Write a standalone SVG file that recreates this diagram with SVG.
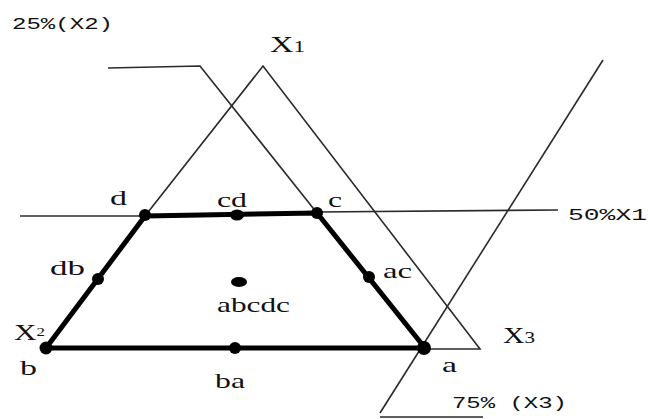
<svg xmlns="http://www.w3.org/2000/svg" width="648" height="419" viewBox="0 0 648 419">
<style>
.thin{stroke:#2a2a2a;stroke-width:1.6;fill:none}
.thick{stroke:#000;stroke-width:5;fill:none;stroke-linecap:round;stroke-linejoin:round}
.dot{fill:#000}
.lbl{font-family:"Liberation Serif","Times New Roman",serif;font-size:22px;fill:#111}
.pct{font-family:"Liberation Mono","Courier New",monospace;font-size:17px;fill:#111}
.x{font-family:"Liberation Serif","Times New Roman",serif;font-size:24px;fill:#111}
</style>
<rect width="648" height="419" fill="#fff"/>
<g id="connectors">
  <polyline class="thin" points="145,216 263,66 480,349 424,349"/>
  <polyline class="thin" points="108,68 200,66 317,213"/>
  <line class="thin" x1="20" y1="216" x2="145" y2="216"/>
  <line class="thin" x1="317" y1="212" x2="558" y2="210"/>
  <line class="thin" x1="603" y1="60" x2="380" y2="413"/>
  <line class="thin" x1="380" y1="417" x2="483" y2="417"/>
  <polygon class="thick" points="46,348 145,216 317,213 425,348"/>
</g>
<g id="node-d"><circle class="dot" cx="145" cy="215" r="6"/><text class="lbl" x="110" y="205" textLength="17" lengthAdjust="spacingAndGlyphs">d</text></g>
<g id="node-cd"><ellipse class="dot" cx="237" cy="215" rx="7" ry="5.5"/><text class="lbl" x="217" y="207" textLength="30" lengthAdjust="spacingAndGlyphs">cd</text></g>
<g id="node-c"><circle class="dot" cx="317" cy="213" r="6"/><text class="lbl" x="328" y="207" textLength="14" lengthAdjust="spacingAndGlyphs">c</text></g>
<g id="node-db"><circle class="dot" cx="98" cy="279" r="6"/><text class="lbl" x="50" y="275" textLength="35" lengthAdjust="spacingAndGlyphs">db</text></g>
<g id="node-ac"><circle class="dot" cx="369" cy="277" r="6"/><text class="lbl" x="383" y="278" textLength="29" lengthAdjust="spacingAndGlyphs">ac</text></g>
<g id="node-abcdc"><ellipse class="dot" cx="239" cy="282" rx="8" ry="5"/><text class="lbl" x="217" y="312" textLength="73" lengthAdjust="spacingAndGlyphs">abcdc</text></g>
<g id="node-b"><circle class="dot" cx="46" cy="348" r="6.5"/><text class="lbl" x="20" y="375" textLength="17" lengthAdjust="spacingAndGlyphs">b</text></g>
<g id="node-ba"><circle class="dot" cx="235" cy="348" r="6"/><text class="lbl" x="215" y="388" font-size="25" textLength="30" lengthAdjust="spacingAndGlyphs">ba</text></g>
<g id="node-a"><circle class="dot" cx="424" cy="348" r="7"/><text class="lbl" x="442" y="372" textLength="15" lengthAdjust="spacingAndGlyphs">a</text></g>
<g id="labels">
  <text class="pct" x="12" y="29" textLength="101" lengthAdjust="spacingAndGlyphs">25%(X2)</text>
  <text class="pct" x="568" y="220" textLength="79" lengthAdjust="spacingAndGlyphs">50%X1</text>
  <text class="pct" x="452" y="408" textLength="115" lengthAdjust="spacingAndGlyphs">75% (X3)</text>
  <text class="x" x="270" y="52" textLength="35" lengthAdjust="spacingAndGlyphs">X<tspan font-size="17">1</tspan></text>
  <text class="x" x="14" y="340" textLength="31" lengthAdjust="spacingAndGlyphs">X<tspan font-size="13" dy="-4">2</tspan></text>
  <text class="x" x="503" y="343" textLength="32" lengthAdjust="spacingAndGlyphs">X<tspan font-size="17">3</tspan></text>
</g>
</svg>
